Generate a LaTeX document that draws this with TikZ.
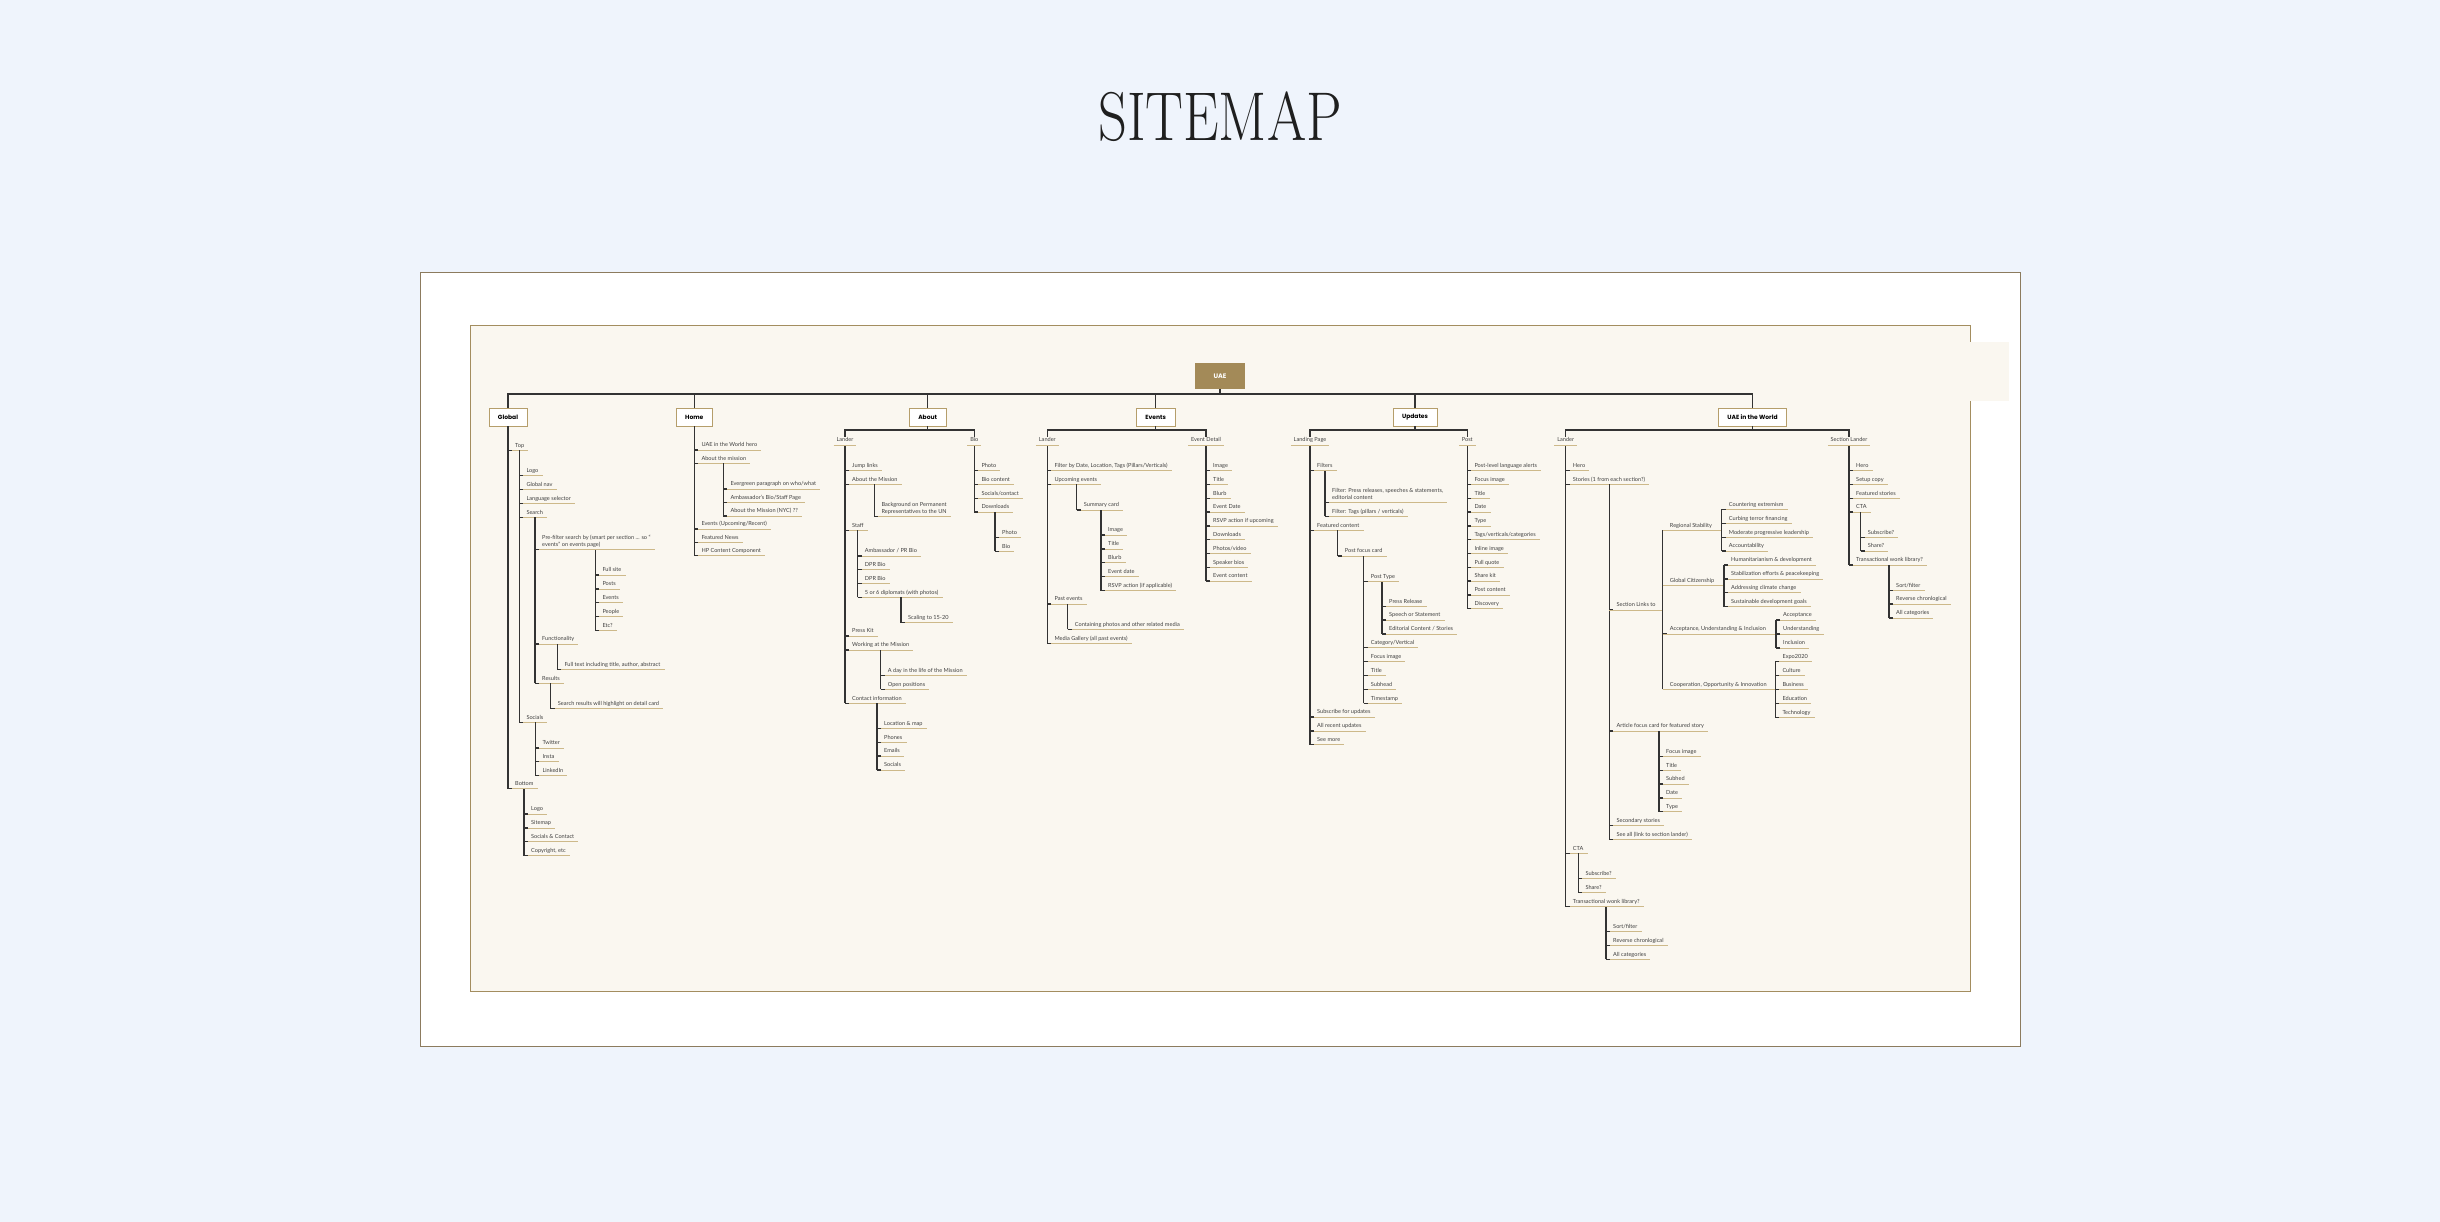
\documentclass[tikz,border=0pt]{standalone}
\usepackage{fontspec}
\newfontfamily\itemfont{Lato}
\newfontfamily\boxfont{Poppins}
\definecolor{bgblue}{HTML}{EFF4FC}
\definecolor{cream}{HTML}{FAF7F0}
\definecolor{outerc}{HTML}{8C7B5E}
\definecolor{innerc}{HTML}{A38D5F}
\definecolor{tanc}{HTML}{CDB98A}
\definecolor{railc}{HTML}{333333}
\definecolor{textc}{HTML}{404040}
\definecolor{boxc}{HTML}{B59E6B}
\definecolor{rootc}{HTML}{A38A58}
\tikzset{
  rail/.style={draw=railc, line width=1.2pt},
  uline/.style={draw=tanc, line width=0.9pt},
  tick/.style={draw=railc, line width=1.2pt},
  itm/.style={anchor=south west, inner xsep=0pt, inner ysep=0pt, text depth=3pt, align=left,
    font=\itemfont\fontsize{5.6}{7.3}\selectfont, text=textc},
  lblst/.style={anchor=south, inner xsep=2.7pt, inner ysep=0pt, text height=5pt, text depth=3pt,
    fill=cream, font=\itemfont\fontsize{5.6}{7.3}\selectfont, text=textc},
  lonebox/.style={draw=boxc, fill=white, line width=0.9pt, minimum height=18pt, inner xsep=9pt, inner ysep=0pt,
    font=\boxfont\bfseries\fontsize{6}{6}\selectfont, text=black},
  rootbox/.style={fill=rootc, minimum width=50pt, minimum height=26pt, inner sep=0pt,
    font=\boxfont\bfseries\fontsize{6.5}{6.5}\selectfont, text=white}
}
\newcommand\Itm[4]{%
  \coordinate (#1r) at (#2,#3);
  \node[itm] (#1) at (#2+7,#3) {#4};
  \draw[uline] (#1r) -- ([xshift=4pt]#1.south east);
  \draw[tick] (#1r) -- ++(4,0);
}
\newcommand\Lbl[4]{%
  \coordinate (#1r) at (#2,#3);
  \node[lblst] (#1) at (#2,#3) {#4};
  \draw[uline] (#1.south west) -- (#1.south east);
}
\begin{document}
\begin{tikzpicture}[x=1pt,y=-1pt]
\useasboundingbox (0,0) rectangle (2440,1222);
\fill[bgblue] (0,0) rectangle (2440,1222);
\draw[outerc, line width=0.9pt, fill=white] (420,272) rectangle (2020,1046);
\draw[innerc, line width=0.9pt, fill=cream] (470,325) rectangle (1970,991);
\fill[cream] (1929,342) rectangle (2009,401);

\node[inner sep=0pt, text=black!88, font=\fontsize{69}{69}\selectfont] (title) at (1220,116.5) {\scalebox{0.82}[1]{SITEMAP}};

% ---------- top level ----------
\node[rootbox] (root) at (1220,376) {UAE};
\coordinate (bus) at (1220,394);
\node[lonebox] (global) at (508,417) {Global};
\node[lonebox] (home) at (694.3,417) {Home};
\node[lonebox] (about) at (927.7,417) {About};
\node[lonebox] (events) at (1155.7,417) {Events};
\node[lonebox] (updates) at (1415,417) {Updates};
\node[lonebox] (world) at (1752.5,417) {UAE in the World};
\draw[rail] (root.south) -- (bus);
\foreach \b in {global,home,about,events,updates,world} { \draw[rail] (\b.north) |- (bus); }

% ---------- Global ----------
\Itm{gTop}{508}{450.3}{Top}
\Itm{gBottom}{508}{788.7}{Bottom}
\Itm{gLogo}{519.3}{475.7}{Logo}
\Itm{gNav}{519.3}{489.7}{Global nav}
\Itm{gLang}{519.3}{503.3}{Language selector}
\Itm{gSearch}{519.3}{517.3}{Search}
\Itm{gSocials}{519.3}{722.3}{Socials}
\Itm{gPre}{535}{549.7}{Pre-filter search by (smart per section ... so “\\events” on events page)}
\Itm{gFunc}{535}{644}{Functionality}
\Itm{gRes}{535}{683.3}{Results}
\Itm{gFull}{595.3}{575}{Full site}
\Itm{gPosts}{595.3}{589}{Posts}
\Itm{gEvents}{595.3}{602.7}{Events}
\Itm{gPeople}{595.3}{616.3}{People}
\Itm{gEtc}{595.3}{630.3}{Etc?}
\Itm{gFT}{557.3}{669.3}{Full text including title, author, abstract}
\Itm{gSR}{550.7}{708.7}{Search results will highlight on detail card}
\Itm{gTw}{535.3}{748}{Twitter}
\Itm{gIn}{535.3}{761.7}{Insta}
\Itm{gLI}{535.3}{775.7}{LinkedIn}
\Itm{gBLogo}{524}{814}{Logo}
\Itm{gSite}{524}{828}{Sitemap}
\Itm{gSC}{524}{841.7}{Socials \& Contact}
\Itm{gCopy}{524}{855.7}{Copyright, etc}
\draw[rail] (global.south) -- (gBottomr);
\draw[rail] (gSocialsr) -- (gSocialsr |- gTopr);
\draw[rail] (gResr) -- (gResr |- gSearchr);
\draw[rail] (gEtcr) -- (gEtcr |- gPrer);
\draw[rail] (gFTr) -- (gFTr |- gFuncr);
\draw[rail] (gSRr) -- (gSRr |- gResr);
\draw[rail] (gLIr) -- (gLIr |- gSocialsr);
\draw[rail] (gCopyr) -- (gCopyr |- gBottomr);

% ---------- Home ----------
\Itm{hUAE}{694.3}{450}{UAE in the World hero}
\Itm{hAbout}{694.3}{463.3}{About the mission}
\Itm{hEvents}{694.3}{529}{Events (Upcoming/Recent)}
\Itm{hFeat}{694.3}{542.3}{Featured News}
\Itm{hHP}{694.3}{555.7}{HP Content Component}
\Itm{hEver}{723.3}{489}{Evergreen paragraph on who/what}
\Itm{hAmb}{723.3}{502.7}{Ambassador’s Bio/Staff Page}
\Itm{hNYC}{723.3}{516}{About the Mission (NYC) ??}
\draw[rail] (home.south) -- (hHPr);
\draw[rail] (hNYCr) -- (hNYCr |- hAboutr);

% ---------- About ----------
\coordinate (abH) at (927.7,430);
\Itm{aJump}{845}{470.7}{Jump links}
\Itm{aMis}{845}{484.3}{About the Mission}
\Itm{aStaff}{845}{530.3}{Staff}
\Itm{aPress}{845}{636}{Press Kit}
\Itm{aWork}{845}{650}{Working at the Mission}
\Itm{aContact}{845}{703.3}{Contact information}
\Itm{aBg}{874.3}{516.7}{Background on Permanent\\Representatives to the UN}
\Itm{aAmb}{857.7}{556}{Ambassador / PR Bio}
\Itm{aDPRa}{857.7}{569.7}{DPR Bio}
\Itm{aDPRb}{857.7}{583.7}{DPR Bio}
\Itm{aDip}{857.7}{597.3}{5 or 6 diplomats (with photos)}
\Itm{aScale}{901}{622.7}{Scaling to 15-20}
\Itm{aDay}{880.7}{675.7}{A day in the life of the Mission}
\Itm{aOpen}{880.7}{689.3}{Open positions}
\Itm{aLoc}{877}{728.7}{Location \& map}
\Itm{aPh}{877}{742.3}{Phones}
\Itm{aEm}{877}{756}{Emails}
\Itm{aSoc}{877}{770}{Socials}
\Itm{bPhoto}{974.3}{470.7}{Photo}
\Itm{bCont}{974.3}{484.3}{Bio content}
\Itm{bSoc}{974.3}{498.3}{Socials/contact}
\Itm{bDown}{974.3}{512}{Downloads}
\Itm{bdPhoto}{995}{537.7}{Photo}
\Itm{bdBio}{995}{551.3}{Bio}
\draw[rail] (about.south) -- (abH);
\draw[rail] (abH) -| (aContactr);
\draw[rail] (abH) -| (bDownr);
\draw[rail] (aBgr) -- (aBgr |- aMisr);
\draw[rail] (aDipr) -- (aDipr |- aStaffr);
\draw[rail] (aScaler) -- (aScaler |- aDipr);
\draw[rail] (aOpenr) -- (aOpenr |- aWorkr);
\draw[rail] (aSocr) -- (aSocr |- aContactr);
\draw[rail] (bdBior) -- (bdBior |- bDownr);

% ---------- Events ----------
\coordinate (evH) at (1155.7,430);
\Itm{eFilter}{1047.3}{470.7}{Filter by Date, Location, Tags (Pillars/Verticals)}
\Itm{eUp}{1047.3}{484.3}{Upcoming events}
\Itm{ePast}{1047.3}{604}{Past events}
\Itm{eMedia}{1047.3}{643.3}{Media Gallery (all past events)}
\Itm{eSum}{1076.7}{510}{Summary card}
\Itm{eImg}{1101}{535}{Image}
\Itm{eTitle}{1101}{549}{Title}
\Itm{eBlurb}{1101}{562.7}{Blurb}
\Itm{eDate}{1101}{576.7}{Event date}
\Itm{eRSVP}{1101}{590.7}{RSVP action (if applicable)}
\Itm{eCont}{1067.7}{629.3}{Containing photos and other related media}
\Itm{dImg}{1206}{470.7}{Image}
\Itm{dTitle}{1206}{484.3}{Title}
\Itm{dBlurb}{1206}{498.3}{Blurb}
\Itm{dDate}{1206}{512}{Event Date}
\Itm{dRSVP}{1206}{526}{RSVP action if upcoming}
\Itm{dDown}{1206}{539.7}{Downloads}
\Itm{dPhoto}{1206}{553.7}{Photos/video}
\Itm{dSpeak}{1206}{567.3}{Speaker bios}
\Itm{dCont}{1206}{581}{Event content}
\draw[rail] (events.south) -- (evH);
\draw[rail] (evH) -| (eMediar);
\draw[rail] (evH) -| (dContr);
\draw[rail] (eSumr) -- (eSumr |- eUpr);
\draw[rail] (eRSVPr) -- (eRSVPr |- eSumr);
\draw[rail] (eContr) -- (eContr |- ePastr);

% ---------- Updates ----------
\coordinate (upH) at (1415,430);
\Itm{uFilters}{1310}{470.7}{Filters}
\Itm{uFeat}{1310}{530.3}{Featured content}
\Itm{uSub}{1310}{717}{Subscribe for updates}
\Itm{uAll}{1310}{731}{All recent updates}
\Itm{uSee}{1310}{744.7}{See more}
\Itm{uFa}{1325}{502.7}{Filter: Press releases, speeches \& statements,\\editorial content}
\Itm{uFb}{1325}{516.3}{Filter: Tags (pillars / verticals)}
\Itm{uCard}{1337.7}{556}{Post focus card}
\Itm{uType}{1363.7}{581.7}{Post Type}
\Itm{uCat}{1363.7}{647.7}{Category/Vertical}
\Itm{uImg}{1363.7}{661.7}{Focus image}
\Itm{uTitle}{1363.7}{675.7}{Title}
\Itm{uSubh}{1363.7}{689.3}{Subhead}
\Itm{uTime}{1363.7}{703.3}{Timestamp}
\Itm{uPR}{1382}{606.3}{Press Release}
\Itm{uSp}{1382}{620}{Speech or Statement}
\Itm{uEd}{1382}{634}{Editorial Content / Stories}
\Itm{pA}{1467.3}{470.7}{Post-level language alerts}
\Itm{pB}{1467.3}{484.3}{Focus image}
\Itm{pC}{1467.3}{498.3}{Title}
\Itm{pD}{1467.3}{512}{Date}
\Itm{pE}{1467.3}{526}{Type}
\Itm{pF}{1467.3}{539.7}{Tags/verticals/categories}
\Itm{pG}{1467.3}{553.7}{Inline image}
\Itm{pH}{1467.3}{567.3}{Pull quote}
\Itm{pI}{1467.3}{581}{Share kit}
\Itm{pJ}{1467.3}{595}{Post content}
\Itm{pK}{1467.3}{608.7}{Discovery}
\draw[rail] (updates.south) -- (upH);
\draw[rail] (upH) -| (uSeer);
\draw[rail] (upH) -| (pKr);
\draw[rail] (uFbr) -- (uFbr |- uFiltersr);
\draw[rail] (uCardr) -- (uCardr |- uFeatr);
\draw[rail] (uTimer) -- (uTimer |- uCardr);
\draw[rail] (uEdr) -- (uEdr |- uTyper);

% ---------- UAE in the World ----------
\coordinate (wH) at (1752.5,430);
\Itm{wHero}{1565.7}{470.7}{Hero}
\Itm{wStories}{1565.7}{484.3}{Stories (1 from each section?)}
\Itm{wCTA}{1565.7}{853.3}{CTA}
\Itm{wTrans}{1565.7}{906.7}{Transactional wonk library?}
\Itm{wLinks}{1609.3}{610}{Section Links to}
\Itm{wArt}{1609.3}{731}{Article focus card for featured story}
\Itm{wSec}{1609.3}{825.7}{Secondary stories}
\Itm{wSee}{1609.3}{839.3}{See all (link to section lander)}
\Itm{wReg}{1662.7}{530.3}{Regional Stability}
\Itm{wGlob}{1662.7}{585.7}{Global Citizenship}
\Itm{wAcc}{1662.7}{634}{Acceptance, Understanding \& Inclusion}
\Itm{wCoop}{1662.7}{689.3}{Cooperation, Opportunity \& Innovation}
\Itm{rA}{1721.7}{509.3}{Countering extremism}
\Itm{rB}{1721.7}{523.3}{Curbing terror financing}
\Itm{rC}{1721.7}{537.3}{Moderate progressive leadership}
\Itm{rD}{1721.7}{551}{Accountability}
\Itm{cA}{1724}{565}{Humanitarianism \& development}
\Itm{cB}{1724}{579}{Stabilization efforts \& peacekeeping}
\Itm{cC}{1724}{592.7}{Addressing climate change}
\Itm{cD}{1724}{606.7}{Sustainable development goals}
\Itm{iA}{1776}{620}{Acceptance}
\Itm{iB}{1776}{634}{Understanding}
\Itm{iC}{1776}{648}{Inclusion}
\Itm{oA}{1775.3}{661.7}{Expo2020}
\Itm{oB}{1775.3}{675.7}{Culture}
\Itm{oC}{1775.3}{689.3}{Business}
\Itm{oD}{1775.3}{703.3}{Education}
\Itm{oE}{1775.3}{717.3}{Technology}
\Itm{fA}{1659}{756.3}{Focus image}
\Itm{fB}{1659}{770.3}{Title}
\Itm{fC}{1659}{784}{Subhed}
\Itm{fD}{1659}{798}{Date}
\Itm{fE}{1659}{811.7}{Type}
\Itm{wSubs}{1578.3}{878.7}{Subscribe?}
\Itm{wShare}{1578.3}{892.3}{Share?}
\Itm{wSort}{1606}{931.7}{Sort/filter}
\Itm{wRev}{1606}{945.3}{Reverse chronlogical}
\Itm{wAllc}{1606}{959.3}{All categories}
\Itm{sHero}{1849}{470.7}{Hero}
\Itm{sSetup}{1849}{484.3}{Setup copy}
\Itm{sFeat}{1849}{498.3}{Featured stories}
\Itm{sCTA}{1849}{512}{CTA}
\Itm{sTrans}{1849}{565}{Transactional wonk library?}
\Itm{sSubs}{1860.7}{537.3}{Subscribe?}
\Itm{sShare}{1860.7}{551}{Share?}
\Itm{sSort}{1889}{590.3}{Sort/filter}
\Itm{sRev}{1889}{604}{Reverse chronlogical}
\Itm{sAllc}{1889}{618}{All categories}
\draw[rail] (world.south) -- (wH);
\draw[rail] (wH) -| (wTransr);
\draw[rail] (wH) -| (sTransr);
\draw[rail] (wSeer) -- (wSeer |- wStoriesr);
\draw[uline] (wLinksr) -- (wLinksr -| wRegr);
\draw[rail] (wRegr) -- (wCoopr);
\draw[uline] (wRegr) -- (wRegr -| rAr);
\draw[rail] (rAr) -- (rDr);
\draw[uline] (wGlobr) -- (wGlobr -| cAr);
\draw[rail] (cAr) -- (cDr);
\draw[uline] (wAccr) -- (wAccr -| iAr);
\draw[rail] (iAr) -- (iCr);
\draw[uline] (wCoopr) -- (wCoopr -| oAr);
\draw[rail] (oAr) -- (oEr);
\draw[rail] (fEr) -- (fEr |- wArtr);
\draw[rail] (wSharer) -- (wSharer |- wCTAr);
\draw[rail] (wAllcr) -- (wAllcr |- wTransr);
\draw[rail] (sSharer) -- (sSharer |- sCTAr);
\draw[rail] (sAllcr) -- (sAllcr |- sTransr);

% ---------- column headers (drawn last, over the rails) ----------
\Lbl{abL}{845}{445}{Lander}
\Lbl{abB}{974.3}{445}{Bio}
\Lbl{evL}{1047.3}{445}{Lander}
\Lbl{evD}{1206}{445}{Event Detail}
\Lbl{upL}{1310}{445}{Landing Page}
\Lbl{upP}{1467.3}{445}{Post}
\Lbl{wL}{1565.7}{445}{Lander}
\Lbl{wS}{1849}{445}{Section Lander}
\end{tikzpicture}
\end{document}
